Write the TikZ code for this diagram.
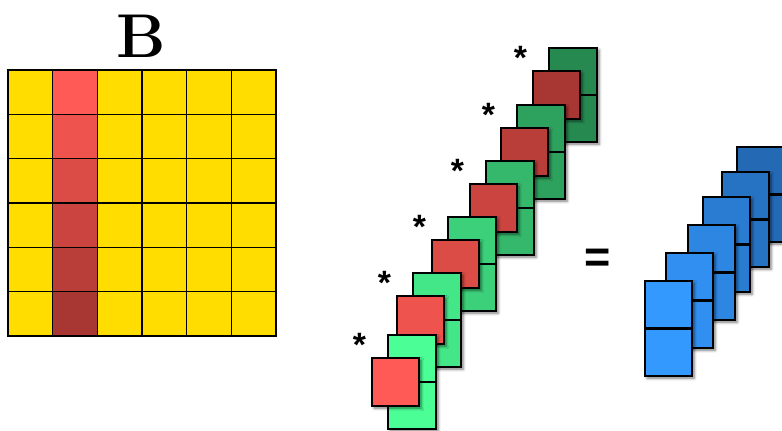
\documentclass[tikz,border=0pt]{standalone}
\usepackage{fontspec}
\newfontfamily\starfont{Liberation Sans}
\usetikzlibrary{shadows.blur}
\definecolor{gridyellow}{RGB}{255,221,0}
\definecolor{redlight}{RGB}{255,90,85}
\definecolor{reddark}{RGB}{168,54,50}
\definecolor{greenlight}{RGB}{75,255,150}
\definecolor{greendark}{RGB}{38,137,80}
\definecolor{bluelight}{RGB}{51,153,255}
\definecolor{bluedark}{RGB}{35,105,180}

\begin{document}
\begin{tikzpicture}[x=0.025cm, y=-0.025cm,
    cell/.style={rectangle, draw, line width=1pt, inner sep=0pt, minimum width=1.117cm, minimum height=1.108cm},
    boxshadow/.style={blur shadow={shadow xshift=1.5pt, shadow yshift=-1.5pt, shadow blur radius=2pt, shadow opacity=55}},
    gcol/.style={rectangle, draw, line width=1.7pt, inner sep=0pt, minimum width=1.2cm, minimum height=2.35cm, boxshadow},
    rsq/.style={rectangle, draw, line width=1.7pt, inner sep=0pt, minimum width=1.175cm, minimum height=1.2cm, boxshadow},
    bcol/.style={rectangle, draw, line width=1.7pt, inner sep=0pt, minimum width=1.175cm, minimum height=2.375cm, boxshadow},
    star/.style={font=\fontsize{24}{24}\starfont\bfseries, inner sep=0pt, anchor=base},
    midline/.style={line width=1.7pt}]

  \useasboundingbox (0,0) rectangle (782,430);

  % matrix B
  \node[font=\fontsize{44}{44}\selectfont\bfseries, anchor=base] (title) at (141,57) {B};
  \foreach \r in {1,...,6}
    \foreach \c in {1,3,4,5,6}
      \node[cell, fill=gridyellow] (b\r\c) at ({8+44.67*(\c-0.5)}, {70+44.33*(\r-0.5)}) {};
  \foreach \r/\p in {1/0, 2/20, 3/40, 4/60, 5/80, 6/100}
    \node[cell, fill=reddark!\p!redlight] (b\r2) at ({8+44.67*1.5}, {70+44.33*(\r-0.5)}) {};

  % column times row pairs
  \foreach \i/\gx/\gy/\p in {6/573/95/100, 5/541/152/80, 4/510/208/60, 3/472/264/40, 2/437/320/20, 1/412/382/0} {
    \node[gcol, fill=greendark!\p!greenlight] (g\i) at (\gx,\gy) {};
    \draw[midline] (g\i.west) -- (g\i.east);
    \node[rsq, fill=reddark!\p!redlight] (r\i) at ([xshift=-0.4125cm]g\i.center) {};
    \node[star] (s\i) at ([xshift=-0.9cm, yshift=0.64cm]r\i.center) {*};
  }

  \node[font=\fontsize{32}{32}\starfont\bfseries, inner sep=0pt] (eq) at (598,261) {=};

  % result columns
  \foreach \i/\bx/\by/\p in {6/760.5/194.5/100, 5/745.5/219.5/80, 4/726.5/244.5/60, 3/711.5/272.5/40, 2/689.5/300.5/20, 1/668.5/328.5/0} {
    \node[bcol, fill=bluedark!\p!bluelight] (c\i) at (\bx,\by) {};
    \draw[midline] (c\i.west) -- (c\i.east);
  }
\end{tikzpicture}
\end{document}
